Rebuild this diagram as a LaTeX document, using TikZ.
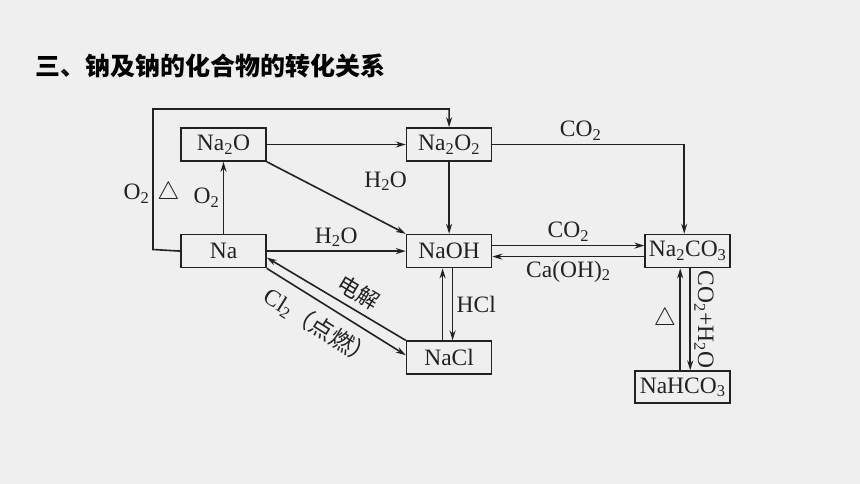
\documentclass[tikz,border=0pt]{standalone}
\usepackage{fontspec}
\setmainfont{Liberation Serif}
\newfontfamily\cjk{Noto Sans CJK SC}
\usetikzlibrary{positioning,arrows.meta}
\definecolor{bg}{RGB}{239,239,239}
\definecolor{ink}{RGB}{34,34,34}

\begin{document}
\begin{tikzpicture}[x=1pt,y=-1pt,
    font=\fontsize{23.5}{25}\selectfont, text=ink,
    box/.style={draw=ink, line width=1.6pt, minimum width=85pt, minimum height=33pt, inner sep=0pt},
    arr/.style={draw=ink, line width=1.6pt, -{Stealth[length=10pt,width=6pt]}},
    cn/.style={font=\cjk\fontsize{22}{24}\selectfont},
    node distance=72pt and 139pt]
    \fill[bg] (0,0) rectangle (860,484);
    \useasboundingbox (0,0) rectangle (860,484);

    \node[anchor=west, inner sep=0pt, text=black, font=\cjk\bfseries\fontsize{25}{27}\selectfont] (title) at (35,66) {三、钠及钠的化合物的转化关系};

    \node[box] (na2o) at (223.5,144.5) {Na\textsubscript{2}O};
    \node[box, right=of na2o] (na2o2) {Na\textsubscript{2}O\textsubscript{2}};
    \node[box, below=of na2o] (na) {Na};
    \node[box, right=of na] (naoh) {NaOH};
    \node[box, below=of naoh] (nacl) {NaCl};
    \node[box, right=152pt of naoh] (na2co3) {Na\textsubscript{2}CO\textsubscript{3}};
    \node[box, minimum width=95pt, minimum height=32pt, below=102pt of na2co3, xshift=-5pt] (nahco3) {NaHCO\textsubscript{3}};

    \coordinate (lp1) at (153,249.5);
    \coordinate (lp2) at (153,109);
    \draw[arr] (na.west) -- (lp1) -- node[pos=0.4, xshift=-1.5pt] {O\textsubscript{2}\hspace{8pt}$\triangle$} (lp2) -| (na2o2.north);

    \draw[arr] (na) -- node[left] {O\textsubscript{2}} (na2o);
    \draw[arr] (na2o) -- (na2o2);
    \draw[arr] (na2o.south east) -- (naoh.north west);
    \draw[arr] (na2o2) -- node[pos=0.27, left=38pt] {H\textsubscript{2}O} (naoh);
    \draw[arr] (na) -- node[above] {H\textsubscript{2}O} (naoh);

    \draw[arr] (nacl.north west) -- node[pos=0.4, above=3pt, sloped, cn] {电解} ([yshift=-6.5pt]na.east);
    \draw[arr] (na.south east) -- node[pos=0.46, below=6pt, sloped] {Cl\textsubscript{2}{\cjk（点燃）}} ([yshift=2.5pt]nacl.west);

    \draw[arr] ([xshift=-6.5pt]nacl.north) -- ([xshift=-6.5pt]naoh.south);
    \draw[arr] ([xshift=3.5pt]naoh.south) -- node[right] {HCl} ([xshift=3.5pt]nacl.north);

    \draw[arr] (na2o2.east) -| node[pos=0.23, above] {CO\textsubscript{2}} ([xshift=-3.5pt]na2co3.north);
    \draw[arr] ([yshift=5.5pt]naoh.east) -- node[above] {CO\textsubscript{2}} ([yshift=5.5pt]na2co3.west);
    \draw[arr] ([yshift=-5.5pt]na2co3.west) -- node[below] {Ca(OH)\textsubscript{2}} ([yshift=-5.5pt]naoh.east);

    \draw[arr] ([xshift=-2.5pt]nahco3.north) -- node[left] {$\triangle$} ([xshift=-7.5pt]na2co3.south);
    \draw[arr] ([xshift=2.5pt]na2co3.south) -- node[anchor=south, rotate=-90] {CO\textsubscript{2}+H\textsubscript{2}O} ([xshift=7.5pt]nahco3.north);
\end{tikzpicture}
\end{document}
